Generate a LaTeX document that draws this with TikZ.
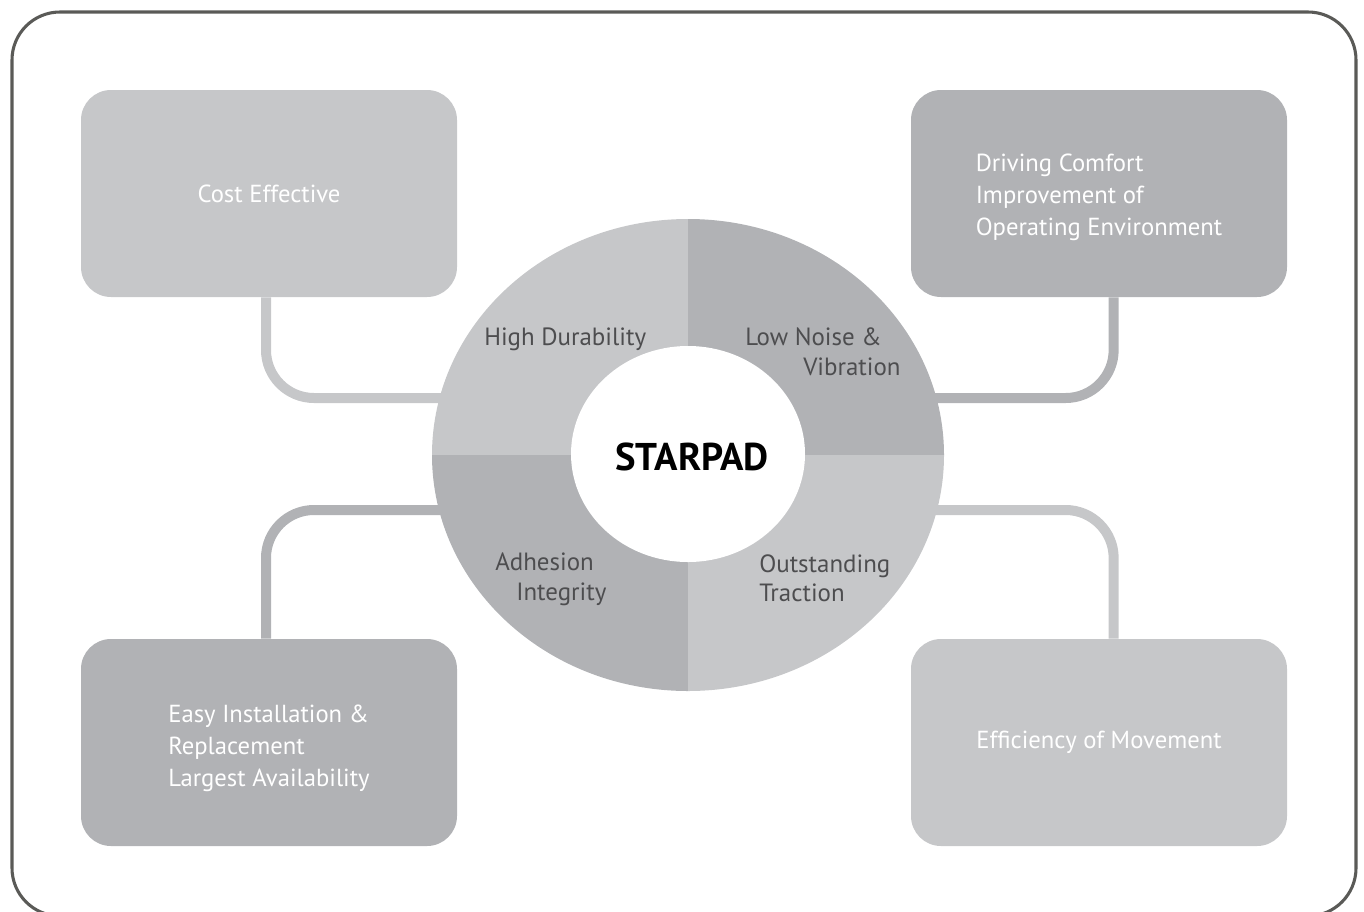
\documentclass[tikz,border=0pt]{standalone}
\usepackage{fontspec}
\setmainfont{PT Sans}
\usetikzlibrary{calc}
\definecolor{lightc}{HTML}{C6C7C9}
\definecolor{darkc}{HTML}{B1B2B5}
\definecolor{framec}{HTML}{5A5A57}
\definecolor{labelc}{HTML}{4D4D4F}
\tikzset{
  box/.style={rounded corners=22.5pt, minimum width=282pt, minimum height=155.25pt, inner sep=0pt, text=white, align=left, font=\fontsize{18.5}{24}\selectfont},
  conn/.style={line width=7.5pt, rounded corners=36pt},
  lbl/.style={text=labelc, font=\fontsize{18.7}{22}\selectfont, inner sep=0pt, anchor=base west},
}
\begin{document}
\begin{tikzpicture}[x=0.75pt,y=-0.75pt]
\useasboundingbox (0,0) rectangle (1364,911);
% frame
\draw[framec, line width=2.3pt, rounded corners=36pt] (12,12) rectangle (1356,916);
% boxes
\node[box, fill=lightc] (ce) at (269,193.5) {Cost Effective};
\node[box, fill=darkc] (dc) at (1099,193.5) {\rule{0pt}{19.5pt}Driving Comfort\\Improvement of\\Operating Environment};
\node[box, fill=darkc] (ei) at (269,742.5) {\rule{0pt}{21.5pt}Easy Installation \&\\Replacement\\Largest Availability};
\node[box, fill=lightc] (em) at (1099,742.5) {Efficiency of Movement};
% ring anchor
\node[minimum width=384pt, minimum height=354pt, inner sep=0pt] (ring) at (688,455) {};
\coordinate (r1) at (470,398);
\coordinate (r2) at (906,398);
\coordinate (r3) at (470,510);
\coordinate (r4) at (906,510);
% connectors
\draw[conn, lightc] ([xshift=-2.25pt]ce.south) |- (r1);
\draw[conn, darkc] ([xshift=11pt]dc.south) |- (r2);
\draw[conn, darkc] ([xshift=-2.25pt]ei.north) |- (r3);
\draw[conn, lightc] ([xshift=11pt]em.north) |- (r4);
% ring quadrants
\begin{scope}
\clip (ring.center) ellipse [x radius=256, y radius=236];
\fill[lightc] (430,215) rectangle (688,455);
\fill[darkc] (688,215) rectangle (946,455);
\fill[darkc] (430,455) rectangle (688,695);
\fill[lightc] (688,455) rectangle (946,695);
\end{scope}
\fill[white] (688,454) ellipse [x radius=117, y radius=108];
% labels
\node[lbl] (hd) at (484,345) {High Durability};
\node[lbl] (ln1) at (745,345) {Low Noise \&};
\node[lbl] (ln2) at (803,375) {Vibration};
\node[lbl] (ad1) at (495,570) {Adhesion};
\node[lbl] (ad2) at (516,600) {Integrity};
\node[lbl] (ot1) at (759,572) {Outstanding};
\node[lbl] (ot2) at (759,601) {Traction};
\node[font=\fontsize{29}{32}\selectfont\bfseries, inner sep=0pt] (sp) at (692,457) {STARPAD};
\end{tikzpicture}
\end{document}
